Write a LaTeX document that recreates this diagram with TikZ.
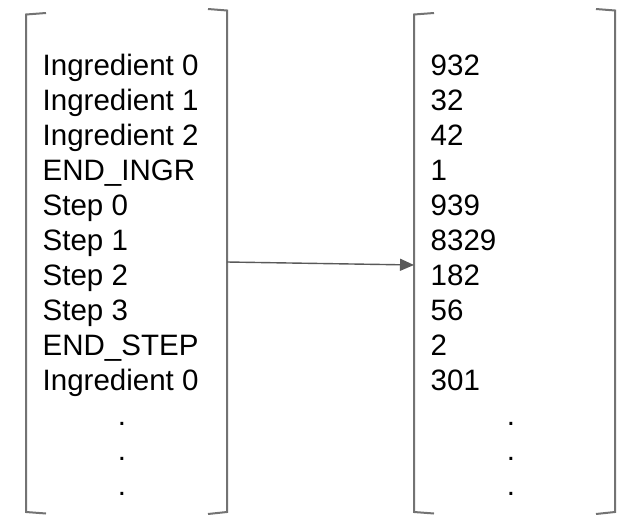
\documentclass[tikz,border=0pt]{standalone}
\usepackage{fontspec}
\setmainfont{Liberation Sans}
\usetikzlibrary{arrows.meta}
\begin{document}
\begin{tikzpicture}[x=1pt,y=-1pt,
  lbl/.style={anchor=base west,inner sep=0pt,font=\fontsize{29.5}{35}\selectfont},
  dotl/.style={anchor=base,inner sep=0pt,font=\fontsize{29.5}{35}\selectfont},
  brk/.style={draw=black!55,line width=2pt},
  conn/.style={draw=black!65,line width=1.4pt,-{Triangle[length=14pt,width=12pt]}}]
\useasboundingbox (0,0) rectangle (635,530);
% brackets
\draw[brk] (46,13) -- (26,14.5) -- (26,512) -- (46,513.5);
\draw[brk] (208,9) -- (227,10.5) -- (227,512) -- (208,514);
\draw[brk] (434,13) -- (414,14.5) -- (414,512) -- (434,513.5);
\draw[brk] (596,9) -- (615,10.5) -- (615,512) -- (596,514);
\coordinate (lout) at (227,262);
\coordinate (rin) at (414,265);
% left column
\node[lbl] (l0) at (42.5,75) {Ingredient 0};
\node[lbl] (l1) at (42.5,110) {Ingredient 1};
\node[lbl] (l2) at (42.5,145) {Ingredient 2};
\node[lbl] (l3) at (42.5,180) {END\_INGR};
\node[lbl] (l4) at (42.5,215) {Step 0};
\node[lbl] (l5) at (42.5,250) {Step 1};
\node[lbl] (l6) at (42.5,285) {Step 2};
\node[lbl] (l7) at (42.5,320) {Step 3};
\node[lbl] (l8) at (42.5,355) {END\_STEP};
\node[lbl] (l9) at (42.5,390) {Ingredient 0};
\node[dotl] (ld1) at (122,425) {.};
\node[dotl] (ld2) at (122,460) {.};
\node[dotl] (ld3) at (122,495) {.};
% right column
\node[lbl] (r0) at (430.5,75) {932};
\node[lbl] (r1) at (430.5,110) {32};
\node[lbl] (r2) at (430.5,145) {42};
\node[lbl] (r3) at (430.5,180) {1};
\node[lbl] (r4) at (430.5,215) {939};
\node[lbl] (r5) at (430.5,250) {8329};
\node[lbl] (r6) at (430.5,285) {182};
\node[lbl] (r7) at (430.5,320) {56};
\node[lbl] (r8) at (430.5,355) {2};
\node[lbl] (r9) at (430.5,390) {301};
\node[dotl] (rd1) at (511,425) {.};
\node[dotl] (rd2) at (511,460) {.};
\node[dotl] (rd3) at (511,495) {.};
% arrow
\draw[conn] (lout) -- (rin);
\end{tikzpicture}
\end{document}
